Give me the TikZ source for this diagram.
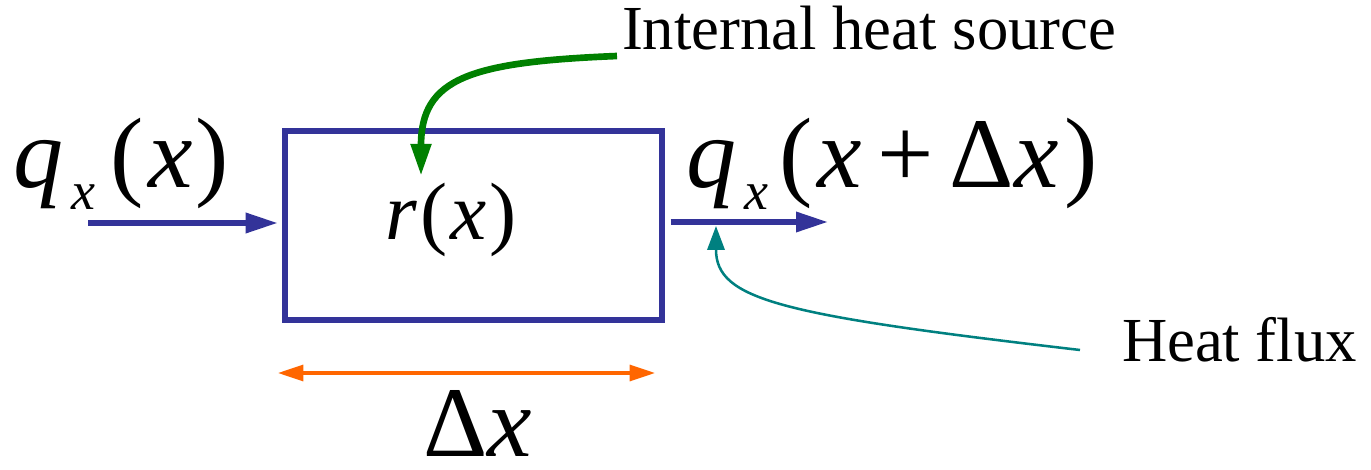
\documentclass[tikz,border=0pt]{standalone}
\usepackage{fontspec}
\usepackage{graphicx}
\setmainfont{Liberation Serif}
\usetikzlibrary{arrows.meta}
\definecolor{fluxblue}{RGB}{51,51,153}
\definecolor{srcgreen}{RGB}{0,128,0}
\definecolor{fluxteal}{RGB}{0,128,128}
\definecolor{dxorange}{RGB}{255,102,0}
% large formula glyphs, set at 50pt and scaled up
\newcommand{\bigmath}[1]{\scalebox{1.5}{\fontsize{50}{55}\selectfont #1}}
\newcommand{\midmath}[1]{\scalebox{1.22}{\fontsize{50}{55}\selectfont #1}}
\newcommand{\lblsize}{\fontsize{47}{52}\selectfont}
\newcommand{\subx}{\raisebox{-10.7pt}{\fontsize{27}{27}\selectfont\textit{x}}}
\tikzset{
  box/.style={draw=fluxblue, line width=4.9pt, minimum width=282.75pt, minimum height=141.75pt, inner sep=0pt},
  flux/.style={fluxblue, line width=4.1pt, -{Triangle[length=24pt,width=14.5pt]}},
  srcarrow/.style={srcgreen, line width=5pt, -{Triangle[length=24pt,width=14.5pt]}},
  fluxnote/.style={fluxteal, line width=1.9pt, -{Triangle[length=18pt,width=13pt]}},
  dxarrow/.style={dxorange, line width=2.3pt, {Triangle[length=19pt,width=12pt]}-{Triangle[length=19pt,width=12pt]}},
  txt/.style={anchor=base west, inner sep=0pt, outer sep=0pt}
}
\begin{document}
\begin{tikzpicture}[x=0.75pt, y=-0.75pt]
  \useasboundingbox (0,0) rectangle (1371,470);
  % control volume
  \node[box] (cv) at (473.5,225.5) {};
  \node[txt] (rx) at (385,240) {\midmath{\textit{r}\hspace{2pt}(\hspace{2pt}\textit{x}\hspace{2pt})}};

  % flux in and out
  \node[txt] (qin) at (13,188) {\bigmath{\textit{q}\hspace{4pt}\subx\hspace{8pt}(\hspace{2pt}\textit{x}\hspace{1.5pt})}};
  \node[txt] (qout) at (686,188) {\bigmath{\textit{q}\hspace{4pt}\subx\hspace{6pt}(\hspace{2pt}\textit{x}\hspace{8pt}+\hspace{8pt}Δ\textit{x}\hspace{3pt})}};
  \coordinate (inS) at (88,223);
  \coordinate (outE) at (828,222);
  \draw[flux, shorten >=3pt] (inS) -- (inS -| cv.west);
  \draw[flux, shorten <=4pt] (outE -| cv.east) -- (outE);

  % internal heat source
  \node[txt] (src) at (622,50) {\lblsize Internal heat source};
  \coordinate (srcS) at (617,56);
  \coordinate (srcE) at (421,176);
  \draw[srcarrow] (srcS) .. controls (470,62) and (421,78) .. (srcE);

  % heat flux note
  \node[txt] (hf) at (1122,362) {\lblsize Heat flux};
  \coordinate (hfS) at (1080,350);
  \coordinate (hfE) at (716,226);
  \draw[fluxnote] (hfS) .. controls (780,315) and (716,300) .. (hfE);

  % width of the element
  \coordinate (dxL) at (278,373);
  \coordinate (dxR) at (655,373);
  \draw[dxarrow] (dxL) -- (dxR);
  \node[txt] (dx) at (423,456) {\bigmath{Δ\textit{x}}};
\end{tikzpicture}
\end{document}
